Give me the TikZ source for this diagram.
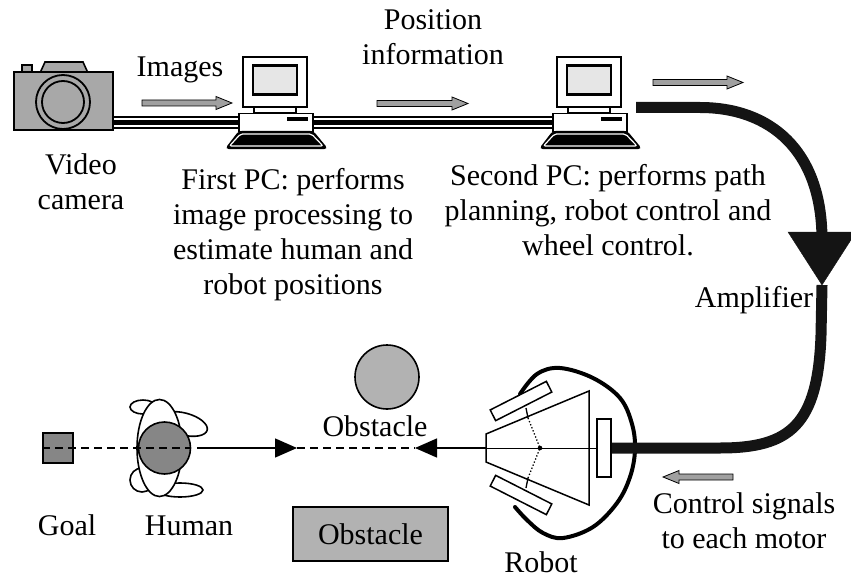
\documentclass[tikz,border=0pt]{standalone}
\usepackage{fontspec}
\setmainfont{Liberation Serif}
\usetikzlibrary{arrows.meta}
\definecolor{camgray}{HTML}{A8A8A8}
\definecolor{screengray}{HTML}{E6E6E6}
\definecolor{headgray}{HTML}{868686}
\definecolor{obsgray}{HTML}{B2B2B2}
\definecolor{signalgray}{HTML}{A0A0A0}
\definecolor{cableblack}{HTML}{141414}
\tikzset{
  lbl/.style={font=\fontsize{30}{35}\selectfont, inner sep=0pt, align=center},
  box/.style={draw, line width=1.6pt, inner sep=0pt},
  datacable/.style={line width=2pt, double=white, double distance=9pt},
  datacore/.style={line width=4.5pt},
  powercable/.style={line width=11pt, cableblack},
  pathline/.style={line width=1.4pt},
  pathdash/.style={line width=1.4pt, dash pattern=on 8pt off 5pt},
  headtip/.style={-{Triangle[length=22pt,width=19pt]}},
  lobe/.style={draw, fill=white, line width=1.6pt},
  % desktop computer: monitor, screen, neck, case and keyboard
  pics/computer/.style={code={
    \node[box, fill=white, line width=1.8pt, minimum width=64pt, minimum height=50pt] (-monitor) at (0,82) {};
    \node[box, fill=screengray, line width=2.6pt, minimum width=44pt, minimum height=29pt] (-screen) at (0,80) {};
    \node[box, fill=white, line width=1.5pt, minimum width=42pt, minimum height=6pt] (-neck) at (0,110) {};
    \node[box, fill=white, line width=1.5pt, minimum width=74pt, minimum height=18pt] (-base) at (1,122.5) {};
    \fill (12,117) rectangle (33,121);
    \filldraw[line width=1.2pt, rounded corners=3pt] (-36,131.5) -- (38,131.5) -- (52,148.5) -- (-49,148.5) -- cycle;
    \draw[white, line width=1.2pt, rounded corners=2pt] (-34.5,134) -- (36.5,134) -- (48,146) -- (-45.5,146) -- cycle;
  }},
  % grey block arrow showing the direction of a signal
  pics/signal/.style={code={
    \filldraw[fill=signalgray, line width=0.8pt] (0,-3) -- (#1-16,-3) -- (#1-16,-6.5) -- (#1,0)
      -- (#1-16,6.5) -- (#1-16,3) -- (0,3) -- cycle;
  }},
}
\begin{document}
\begin{tikzpicture}[x=1pt,y=-1pt]
\useasboundingbox (0,0) rectangle (851,580);
\clip (0,0) rectangle (851,580);

% video camera
\filldraw[fill=camgray, line width=1.6pt] (40,73) -- (45,62) -- (83,62) -- (88,73) -- cycle;
\filldraw[fill=camgray, line width=1.6pt] (22,65) rectangle (32,73);
\node[box, fill=camgray, minimum width=99pt, minimum height=58pt] (camera) at (63.5,101) {};
\draw[fill=camgray, line width=1.8pt] (63,102) circle[radius=27pt];
\draw[line width=1.8pt] (63,102) circle[radius=21pt];

% the two computers
\pic (pcA) at (275,0) {computer};
\pic (pcB) at (589,0) {computer};

% data cables
\draw[datacable] (pcA-base.west -| camera.east) -- (pcA-base.west);
\draw[datacore] (pcA-base.west -| camera.east) -- (pcA-base.west);
\draw[datacable] (pcA-base.east) -- (pcB-base.west);
\draw[datacore] (pcA-base.east) -- (pcB-base.west);

% signal direction arrows
\pic at (142,103) {signal=90};
\pic at (377,103.5) {signal=91};
\pic at (653,82.5) {signal=90};
\pic[xscale=-1] at (733,477) {signal=70};

% labels of the upper row
\node[lbl, anchor=base] (imglbl) at (180,77) {Images};
\node[lbl, anchor=north] (poslbl) at (433,9) {Position\\information};
\node[lbl, anchor=north] (camlbl) at (81,153) {Video\\camera};
\node[lbl, anchor=north] (pcAlbl) at (293,168) {First PC: performs\\image processing to\\estimate human and\\robot positions};
\node[lbl, anchor=north] (pcBlbl) at (608,164) {Second PC: performs path\\planning, robot control and\\wheel control.};

% power cable with amplifier
\coordinate (pwr) at (636,107.5);
\coordinate (amp) at (822,285);
\draw[powercable] (pwr) -- (700,107.5) .. controls (770,107.5) and (822,150) .. (822,240);
\filldraw[cableblack] (788,232) -- (856,232) -- (amp) -- cycle;
\node[lbl, anchor=base] (amplbl) at (754,307) {Amplifier};

% robot seen from above
\coordinate (rc) at (540,448);
\draw[line width=4pt, line cap=round] plot[smooth, tension=0.6] coordinates {
  (520,394) (537,374) (560,368) (593,378) (620,398) (632,424) (635,450)
  (630,477) (617,503) (593,527) (563,538) (543,533) (527,520) (515,507)};
\draw[line width=1.5pt, line join=miter] (486,434) -- (589,391) -- (589,505) -- (486,462) -- cycle;
\node[box, fill=white, line width=1.5pt, minimum width=63pt, minimum height=12pt, rotate=27] (wheelU) at (521,401) {};
\node[box, fill=white, line width=1.5pt, minimum width=63pt, minimum height=12pt, rotate=-27] (wheelL) at (521,495) {};
\draw[line width=1.3pt] (526,408) -- (528,418);
\draw[line width=1.3pt] (526,488) -- (528,478);
\draw[line width=1.3pt, dotted] (528,418) -- (rc);
\draw[line width=1.3pt, dotted] (528,478) -- (rc);
\fill (rc) circle[radius=2.3pt];
\draw[line width=0.9pt] (486,448) -- (597,448);
\node[box, fill=white, line width=1.5pt, minimum width=14pt, minimum height=58pt] (wheelR) at (604,448) {};
\draw[powercable] (amp) -- (821,335) .. controls (818,425) and (790,448) .. (720,448) -- (wheelR.east);
\node[lbl, anchor=base] (robotlbl) at (541,572) {Robot};
\node[lbl, anchor=north] (ctrllbl) at (744,492) {Control signals\\to each motor};

% obstacles
\node[draw, circle, fill=obsgray, line width=1.6pt, minimum size=64pt, inner sep=0pt] (obsA) at (387,377) {};
\node[lbl, anchor=base] (obsAlbl) at (375,436) {Obstacle};
\node[box, fill=obsgray, lbl, line width=1.6pt, minimum width=155pt, minimum height=54pt] (obsB) at (370.5,534) {Obstacle};

% goal and human
\node[box, fill=headgray, line width=1.4pt, minimum size=30pt] (goal) at (58,448) {};
\draw[lobe] (143,407) ellipse[x radius=13pt, y radius=7pt];
\draw[lobe, rotate around={-15:(184,424)}] (184,424) ellipse[x radius=24pt, y radius=11pt];
\draw[lobe] (142,480) ellipse[x radius=12pt, y radius=12pt];
\draw[lobe] (180,490) ellipse[x radius=23pt, y radius=7pt];
\draw[lobe] (159.5,448) ellipse[x radius=22.5pt, y radius=48.5pt];
\node[draw, circle, fill=headgray, line width=1.6pt, minimum size=52pt, inner sep=0pt] (head) at (164.5,448) {};
\node[lbl, anchor=base] (goallbl) at (67,535) {Goal};
\node[lbl, anchor=base] (humanlbl) at (189,535) {Human};

% planned paths
\coordinate (tipR) at (297,448);
\coordinate (tipL) at (415,448);
\draw[pathdash] (goal.west) -- (head.east);
\draw[pathline, headtip] ([xshift=6pt]head.east) -- (tipR);
\draw[pathdash] (tipR) -- (tipL);
\draw[pathline, headtip] (486,448) -- (tipL);
\end{tikzpicture}
\end{document}
